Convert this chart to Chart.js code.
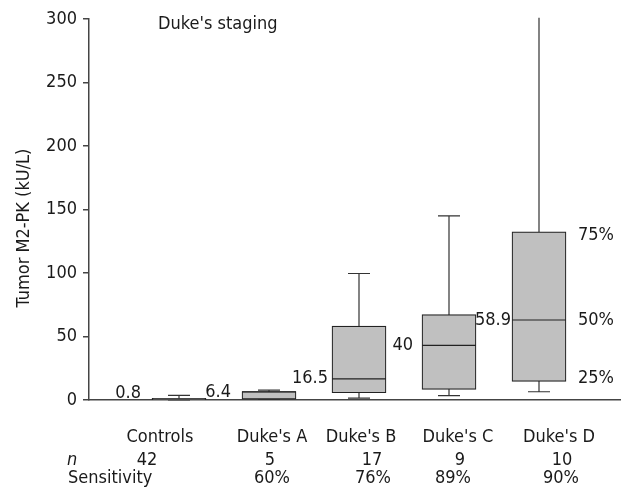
<!DOCTYPE html>
<html>
<head>
<meta charset="utf-8">
<script src="https://cdn.jsdelivr.net/npm/chart.js@4"></script>
<style>
  body { margin: 0; background: #fff; }
  #wrap { width: 622px; height: 501px; }
</style>
</head>
<body>
<div id="wrap"><canvas id="myChart" width="622" height="501"></canvas></div>
<script>
// values
const categories = ['Controls', "Duke's A", "Duke's B", "Duke's C", "Duke's D"];
const mins    = [0,   0.5, 1.5,  3.5,  6.5];
const q1s     = [0.2, 0.6, 5.7,  8.3,  14.6];
const medians = [0.8, 6.4, 16.7, 43,   63];
const q3s     = [1.3, 6.7, 58.2, 67.2, 132.4];
const maxs    = [3.7, 7.7, 99.6, 145,  301];
const medianLabels = ['0.8', '6.4', '16.5', '40', '58.9'];
const nValues = ['42', '5', '17', '9', '10'];
const sensitivity = ['', '60%', '76%', '89%', '90%'];
const yTicks = [0, 50, 100, 150, 200, 250, 300];

const FONT = "'DejaVu Sans Condensed', 'DejaVu Sans', sans-serif";
const INK = '#1a1a1a';
const AXIS = '#444';

document.addEventListener('DOMContentLoaded', function() {
    const ctx = document.getElementById('myChart');

    // table under the plot is typeset loosely, so each row has its own nudge
    const catShift  = [-19, 3, 2, 9, 20];
    const nShift    = [-32, 1, 13, 11, 23];
    const sensShift = [0, 3, 14, 4, 22];
    const labelGap  = [11, 11, 4, 9, 1];

    const boxExtras = {
        id: 'boxExtras',
        beforeDatasetsDraw(chart) {
            const c = chart.ctx, x = chart.scales.x, y = chart.scales.y;
            c.save();
            c.strokeStyle = '#333';
            c.lineWidth = 1.2;
            categories.forEach((cat, i) => {
                const px = x.getPixelForValue(i + 1);
                const top = y.getPixelForValue(maxs[i]);
                const bot = y.getPixelForValue(mins[i]);
                c.beginPath();
                c.moveTo(px, top); c.lineTo(px, bot);
                if (maxs[i] <= y.max) { c.moveTo(px - 11, top); c.lineTo(px + 11, top); }
                c.moveTo(px - 11, bot); c.lineTo(px + 11, bot);
                c.stroke();
            });
            c.restore();
        },
        afterDatasetsDraw(chart) {
            const c = chart.ctx, x = chart.scales.x, y = chart.scales.y;
            const area = chart.chartArea;
            c.save();
            c.strokeStyle = '#222';
            c.lineWidth = 1.2;
            categories.forEach((cat, i) => {
                const px = x.getPixelForValue(i + 1);
                const py = y.getPixelForValue(medians[i]);
                c.beginPath();
                c.moveTo(px - 27, py); c.lineTo(px + 27, py);
                c.stroke();
            });

            c.fillStyle = INK;
            c.font = '18px ' + FONT;
            c.textBaseline = 'middle';
            c.textAlign = 'right';
            medianLabels.forEach((txt, i) => {
                const px = x.getPixelForValue(i + 1) - 27 - labelGap[i];
                const py = Math.min(y.getPixelForValue(medians[i]), area.bottom - 7);
                c.fillText(txt, px, py);
            });

            // quartile legend beside the last box
            const last = categories.length - 1;
            const qx = x.getPixelForValue(last + 1) + 39;
            c.textAlign = 'left';
            c.fillText('75%', qx, y.getPixelForValue(q3s[last]) + 3);
            c.fillText('50%', qx, y.getPixelForValue(medians[last]));
            c.fillText('25%', qx, y.getPixelForValue(q1s[last]) - 3);

            // panel caption
            c.textBaseline = 'alphabetic';
            c.fillText("Duke's staging", area.left + 69, area.top + 10);

            // y title
            c.save();
            c.translate(24, 228);
            c.rotate(-Math.PI / 2);
            c.textAlign = 'center';
            c.textBaseline = 'middle';
            c.fillText('Tumor M2-PK (kU/L)', 0, 0);
            c.restore();

            // table rows
            const rowCat = area.bottom + 42, rowN = area.bottom + 65, rowS = area.bottom + 83;
            c.textAlign = 'center';
            categories.forEach((cat, i) => {
                const px = x.getPixelForValue(i + 1);
                c.fillText(cat, px + catShift[i], rowCat);
                c.fillText(nValues[i], px + nShift[i], rowN);
                if (sensitivity[i]) c.fillText(sensitivity[i], px + sensShift[i], rowS);
            });
            c.textAlign = 'left';
            c.font = 'italic 18px ' + FONT;
            c.fillText('n', area.left - 22, rowN);
            c.font = '18px ' + FONT;
            c.fillText('Sensitivity', area.left - 21, rowS);
            c.restore();
        }
    };

    const boxData = {
        datasets: [
            {
                label: 'IQR',
                data: categories.map((cat, i) => ({ x: i + 1, y: [q1s[i], q3s[i]] })),
                backgroundColor: '#c0c0c0',
                borderColor: '#222',
                borderWidth: 1.2,
                borderSkipped: false,
                barThickness: 54,
            }
        ]
    };

    const config = {
        type: 'bar',
        data: boxData,
        options: {
            responsive: false,
            animation: false,
            layout: { padding: { top: 19, right: 2, bottom: 101, left: 0 } },
            plugins: { legend: { display: false }, tooltip: { enabled: false } },
            scales: {
                x: {
                    type: 'linear',
                    offset: false,
                    min: 0,
                    max: 5.9,
                    ticks: { display: false },
                    grid: { display: false, drawTicks: false },
                    border: { display: true, color: AXIS, width: 1.5 },
                    afterFit: (s) => { s.height = 0; },
                },
                y: {
                    min: 0,
                    max: 300,
                    afterBuildTicks: (s) => { s.ticks = yTicks.map(v => ({ value: v })); },
                    ticks: { color: INK, font: { family: FONT, size: 18 }, padding: 6 },
                    grid: { drawOnChartArea: false, drawTicks: true, tickLength: 6, color: AXIS, lineWidth: 1.5 },
                    border: { display: true, color: AXIS, width: 1.5 },
                    afterFit: (s) => { s.width = 89; },
                },
            },
        },
        plugins: [boxExtras],
    };

    const myChart = new Chart(ctx, config);
});
</script>
</body>
</html>
